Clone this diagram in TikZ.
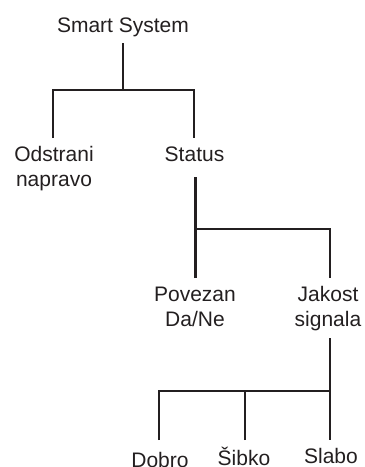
\documentclass[tikz,border=0pt]{standalone}
\usepackage{fontspec}
\setmainfont{Liberation Sans}
\definecolor{ink}{HTML}{231F20}
\begin{document}
\begin{tikzpicture}[x=1pt,y=-1pt,
  lbl/.style={anchor=base,align=center,inner sep=0pt,text=ink,
    font=\fontsize{21}{25}\selectfont},
  wire/.style={draw=ink,line width=2.5pt}]
\useasboundingbox (0,0) rectangle (365,467);
\node[lbl] (root) at (123,32.3) {Smart System};
\node[lbl] (odst) at (54,186) {Odstrani\\napravo};
\node[lbl] (stat) at (194.5,161.7) {Status};
\node[lbl] (pove) at (195,326.2) {Povezan\\Da/Ne};
\node[lbl] (jako) at (328,326.2) {Jakost\\signala};
\node[lbl] (dobr) at (160,467.7) {Dobro};
\node[lbl] (sibk) at (244,465.3) {Šibko};
\node[lbl] (slab) at (331,463.3) {Slabo};
% junction points
\coordinate (rootb) at (123,43);
\coordinate (rootj) at (123,90);
\coordinate (odstt) at (53,138);
\coordinate (statt) at (194,138);
\coordinate (statb) at (195.5,177);
\coordinate (statj) at (195.5,229);
\coordinate (povet) at (195.5,278);
\coordinate (jakot) at (330,278);
\coordinate (jakob) at (330,338);
\coordinate (jakoj) at (330,391);
\coordinate (dobrt) at (159,440);
\coordinate (sibkt) at (245,440);
\coordinate (slabt) at (330,440);
\draw[wire] (rootb) -- (rootj);
\draw[wire] (odstt) |- (rootj) -| (statt);
\draw[wire] (statb) -- (statj);
\draw[wire] (povet) -- (statj) -| (jakot);
\draw[wire] (jakob) -- (jakoj) -- (slabt);
\draw[wire] (dobrt) |- (jakoj);
\draw[wire] (sibkt) -- (sibkt |- jakoj);
\end{tikzpicture}
\end{document}
